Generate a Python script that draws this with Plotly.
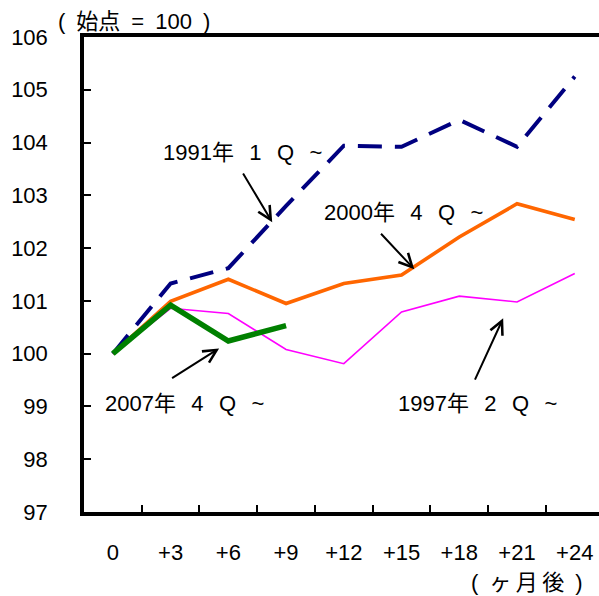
import plotly.graph_objects as go

# Months elapsed since each starting quarter
months = ["0", "+3", "+6", "+9", "+12", "+15", "+18", "+21", "+24"]
y_ticks = [97, 98, 99, 100, 101, 102, 103, 104, 105, 106]

# Index values (start = 100)
s1991 = [100, 101.33, 101.62, 102.80, 103.94, 103.92, 104.43, 103.92, 105.25]
s1997 = [100, 100.86, 100.76, 100.08, 99.81, 100.79, 101.09, 100.98, 101.52]
s2000 = [100, 100.99, 101.41, 100.95, 101.33, 101.49, 102.21, 102.84, 102.54]
s2007 = [100, 100.92, 100.24, 100.53]

label_1991 = "1991年\u2002\u20091\u2002\u2009Q\u2002\u2009~"
label_1997 = "1997年\u2002\u20092\u2002\u2009Q\u2002\u2009~"
label_2000 = "2000年\u2002\u20094\u2002\u2009Q\u2002\u2009~"
label_2007 = "2007年\u2002\u20094\u2002\u2009Q\u2002\u2009~"

FONT = "Liberation Sans, Arial, Noto Sans CJK JP, sans-serif"

fig = go.Figure()
fig.add_trace(go.Scatter(x=months, y=s1997, mode="lines", name=label_1997,
                         line=dict(color="#FF00FF", width=1.6)))
fig.add_trace(go.Scatter(x=months, y=s2000, mode="lines", name=label_2000,
                         line=dict(color="#FF6600", width=3.6)))
fig.add_trace(go.Scatter(x=months, y=s1991, mode="lines", name=label_1991,
                         line=dict(color="#000080", width=4, dash="24px,13px")))
fig.add_trace(go.Scatter(x=months[:len(s2007)], y=s2007, mode="lines", name=label_2007,
                         line=dict(color="#008000", width=5.5)))

# Series labels (left edge of text, vertical centre) and arrows (tail -> tip)
labels = [
    (label_1991, 0.83, 103.82, (2.24, 103.44), (2.76, 102.49)),
    (label_2000, 3.62, 102.68, (4.62, 102.30), (5.22, 101.60)),
    (label_2007, -0.17, 99.06, (1.00, 99.52), (1.84, 100.10)),
    (label_1997, 4.90, 99.06, (6.26, 99.48), (6.76, 100.67)),
]
for text, tx, ty, tail, tip in labels:
    fig.add_annotation(x=tx, y=ty, text=text, showarrow=False, xanchor="left",
                       yanchor="middle", font=dict(size=22, color="black", family=FONT))
    fig.add_annotation(x=tip[0], y=tip[1], ax=tail[0], ay=tail[1], axref="x", ayref="y",
                       text="", showarrow=True, arrowhead=5, arrowsize=1.3,
                       arrowwidth=2, arrowcolor="black", standoff=0)

# Unit notes: index base above the y axis, months below the x axis
fig.add_annotation(x=-0.054, y=1.032, xref="paper", yref="paper",
                   text="(\u2002始点\u2002=\u2002100\u2002)",
                   showarrow=False, xanchor="left", yanchor="middle",
                   font=dict(size=22, color="black", family=FONT))
fig.add_annotation(x=0.97, y=-0.149, xref="paper", yref="paper",
                   text="(\u2002ヶ\u2009月\u2009後\u2002)",
                   showarrow=False, xanchor="right", yanchor="middle",
                   font=dict(size=22, color="black", family=FONT))

fig.update_layout(
    width=599, height=596,
    margin=dict(l=84, r=0, t=37, b=84, pad=0),
    paper_bgcolor="white", plot_bgcolor="white",
    showlegend=False,
    font=dict(family=FONT, size=22, color="black"),
    xaxis=dict(type="category", range=[-0.5, 8.42], showline=True, linewidth=3.5,
               linecolor="black", mirror=True, ticks="inside", tickson="boundaries",
               ticklen=7, tickwidth=2, tickcolor="black", showgrid=False,
               zeroline=False, ticklabelstandoff=18, tickfont=dict(size=22)),
    yaxis=dict(range=[97, 106], tickvals=y_ticks, showline=True, linewidth=3.5,
               linecolor="black", ticks="inside", ticklen=7, tickwidth=1.5,
               tickcolor="black", showgrid=False, zeroline=False,
               ticklabelstandoff=28, tickfont=dict(size=22)),
)

fig.write_html("out.html")
